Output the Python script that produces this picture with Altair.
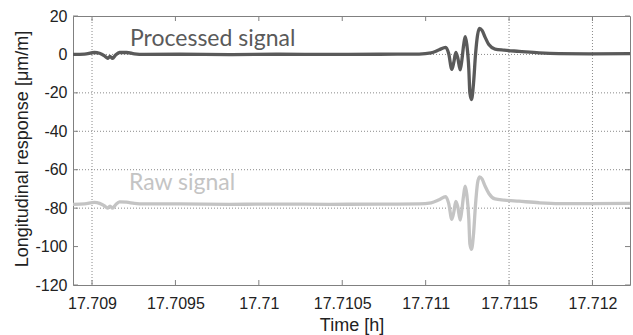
import altair as alt
import pandas as pd

# Time stamps [h] and the two strain traces [µm/m]
time_h = [
    17.708886, 17.708955, 17.709015, 17.709045, 17.709075, 17.709093, 17.709108,
    17.709123, 17.709141, 17.709165, 17.709207, 17.709254, 17.709314, 17.709524,
    17.709823, 17.710123, 17.710422, 17.710722, 17.710961, 17.711033, 17.711081,
    17.711120, 17.711138, 17.711157, 17.711169, 17.711181, 17.711193, 17.711207,
    17.711217, 17.711228, 17.711237, 17.711247, 17.711259, 17.711265, 17.711275,
    17.711287, 17.711299, 17.711311, 17.711323, 17.711338, 17.711356, 17.711380,
    17.711416, 17.711470, 17.711560, 17.711680, 17.711799, 17.711979, 17.712225,
]
processed = [
    0.0, 0.2, 1.0, 0.6, -0.8, -2.0, -1.0,
    -2.0, -0.3, 1.0, 1.0, 0.3, 0.0, 0.1,
    -0.1, 0.1, 0.0, 0.1, 0.2, 0.8, 2.4,
    3.7, 0.5, -7.8, -4.0, 1.0, -2.0, -8.0,
    -3.0, 5.0, 9.2, 5.0, -8.0, -20.0, -23.5,
    -15.0, 0.0, 10.0, 13.6, 12.5, 9.0, 5.0,
    2.8, 2.2, 1.6, 0.8, 0.4, 0.3, 0.4,
]
raw = [
    -78.0, -77.8, -77.0, -77.5, -78.8, -80.0, -79.0,
    -80.0, -78.3, -76.7, -76.9, -77.5, -77.8, -77.8,
    -78.0, -77.9, -78.0, -77.9, -77.8, -77.2, -75.6,
    -74.0, -77.5, -85.8, -82.0, -76.5, -79.5, -86.2,
    -81.0, -73.0, -68.5, -73.0, -86.0, -98.5, -101.5,
    -93.5, -78.0, -67.0, -63.7, -64.8, -68.5, -72.5,
    -75.2, -75.8, -76.4, -77.2, -77.6, -77.6, -77.5,
]

x_ticks = [17.709, 17.7095, 17.71, 17.7105, 17.711, 17.7115, 17.712]
y_ticks = [20, 0, -20, -40, -60, -80, -100, -120]
x_grid = [17.709, 17.7115, 17.712]
y_grid = [0, -20, -40, -60, -80]
series_labels = ["Processed signal", "Raw signal"]

W, H = 557, 269
FRAME = "#808080"
DARK = "#5a5a5a"
LIGHT = "#c4c4c4"

xs = alt.Scale(domain=[17.708886, 17.712225], nice=False, zero=False)
ys = alt.Scale(domain=[-120, 20], nice=False, zero=False)

df = pd.DataFrame({"t": time_h, "processed": processed, "raw": raw})
xt = pd.DataFrame({"t": x_ticks})
yt = pd.DataFrame({"v": y_ticks})
xg = pd.DataFrame({"t": x_grid})
yg = pd.DataFrame({"v": y_grid})

axis_common = dict(
    grid=False, ticks=False, tickSize=0, domain=False,
    labelFont="Liberation Sans", labelFontSize=16, labelColor="#222222",
    titleFont="Liberation Sans", titleFontSize=18, titleColor="#222222",
    titleFontWeight="normal", labelExpr="'' + datum.value",
)

x_axis = alt.Axis(values=x_ticks, title="Time [h]", labelPadding=10,
                  titleY=45, titleBaseline="alphabetic", **axis_common)
y_axis = alt.Axis(values=y_ticks, title="Longitudinal response [μm/m]",
                  labelPadding=6, titleAngle=270, titleX=-46, titleY=H / 2 - 2,
                  titleAlign="center", titleBaseline="alphabetic", **axis_common)


def X(field):
    return alt.X(field, type="quantitative", scale=xs, axis=x_axis)


def Y(field):
    return alt.Y(field, type="quantitative", scale=ys, axis=y_axis)


# dotted grid
grid_v = alt.Chart(xg).mark_rule(color="#8a8a8a", strokeDash=[1, 2], strokeWidth=1).encode(
    x=X("t"), y=alt.value(0), y2=alt.value(H))
grid_h = alt.Chart(yg).mark_rule(color="#8a8a8a", strokeDash=[1, 2], strokeWidth=1).encode(
    y=Y("v"), x=alt.value(0), x2=alt.value(W))

# inward tick marks on all four sides
tick_len = 5
ticks_bottom = alt.Chart(xt).mark_rule(color=FRAME).encode(
    x=X("t"), y=alt.value(H), y2=alt.value(H - tick_len))
ticks_top = alt.Chart(xt).mark_rule(color=FRAME).encode(
    x=X("t"), y=alt.value(0), y2=alt.value(tick_len))
ticks_left = alt.Chart(yt).mark_rule(color=FRAME).encode(
    y=Y("v"), x=alt.value(0), x2=alt.value(tick_len))
ticks_right = alt.Chart(yt).mark_rule(color=FRAME).encode(
    y=Y("v"), x=alt.value(W), x2=alt.value(W - tick_len))

raw_line = alt.Chart(df).mark_line(color=LIGHT, strokeWidth=3.3, interpolate="monotone",
                                   clip=True).encode(x=X("t"), y=Y("raw"))
proc_line = alt.Chart(df).mark_line(color=DARK, strokeWidth=3.3, interpolate="monotone",
                                    clip=True).encode(x=X("t"), y=Y("processed"))

label_proc = alt.Chart(pd.DataFrame({"label": [series_labels[0]]})).mark_text(
    align="left", baseline="alphabetic", font="Lato", fontSize=23, color=DARK
).encode(text="label:N", x=alt.value(57), y=alt.value(30))
label_raw = alt.Chart(pd.DataFrame({"label": [series_labels[1]]})).mark_text(
    align="left", baseline="alphabetic", font="Lato", fontSize=23, color=LIGHT
).encode(text="label:N", x=alt.value(56), y=alt.value(174))

chart = alt.layer(
    grid_v, grid_h, ticks_bottom, ticks_top, ticks_left, ticks_right,
    raw_line, proc_line, label_proc, label_raw,
).properties(
    width=W, height=H,
    autosize=alt.AutoSizeParams(type="none"),
    padding={"left": 73, "top": 16, "right": 3, "bottom": 50},
    background="white",
).configure_view(stroke=FRAME, strokeWidth=1)

chart.save("out.html", embed_options={"renderer": "svg", "actions": False})
